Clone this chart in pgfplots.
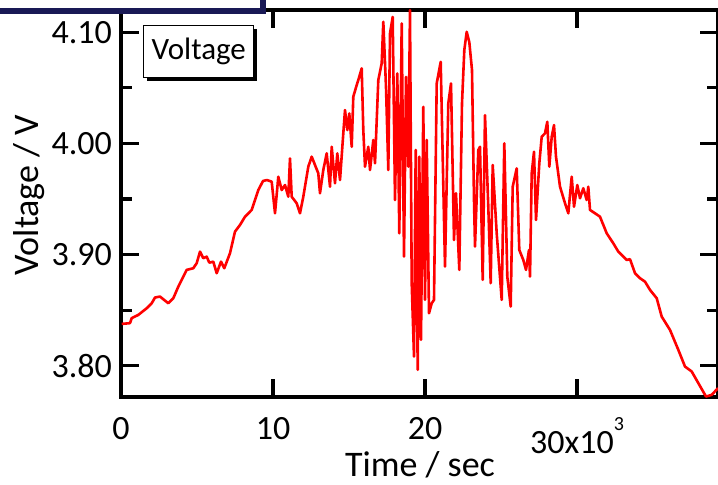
\documentclass[border=0pt]{standalone}
\usepackage{fontspec}
\setmainfont{Carlito}
\usepackage{pgfplots}
\usepackage{pgfplotstable}
\pgfplotsset{compat=1.18}
\usetikzlibrary{shadows}

\definecolor{framenavy}{RGB}{25,25,85}

% time (s), voltage (V)
\pgfplotstableread{
t V
46 3.8377
592 3.8384
704 3.8429
1138 3.8458
1691 3.8518
2020 3.8563
2237 3.8614
2566 3.8623
2783 3.8599
3112 3.8563
3441 3.8608
3770 3.8712
4099 3.8802
4322 3.8863
4757 3.8878
4980 3.8923
5197 3.9027
5414 3.8968
5638 3.8982
5809 3.8928
6072 3.8937
6296 3.8833
6579 3.8937
6796 3.8878
7171 3.9013
7500 3.9207
7829 3.9267
8158 3.9341
8599 3.9402
9033 3.9581
9342 3.9662
9605 3.9671
9914 3.9656
10132 3.9372
10349 3.9701
10572 3.9581
10789 3.9626
11007 3.9521
11118 3.9866
11230 3.9521
11559 3.9462
11776 3.9372
11993 3.9521
12322 3.9791
12546 3.9881
12763 3.9806
12980 3.9731
13092 3.9552
13309 3.9761
13533 3.9911
13750 3.9611
13862 3.9970
14079 3.9642
14230 3.9911
14408 3.9671
14625 4.0091
14737 4.0300
14889 4.0120
15020 4.0270
15178 3.9970
15283 4.0420
15507 4.0525
15612 4.0570
15836 4.0675
15941 4.0120
16053 3.9791
16270 3.9970
16382 3.9761
16599 4.0031
16711 3.9821
16928 4.0570
17151 4.0720
17257 4.1094
17434 4.0509
17586 3.9761
17697 4.0989
17875 4.1138
18026 3.9491
18178 4.0630
18309 3.9192
18467 4.1079
18618 3.8982
18750 4.0599
18901 3.9791
19013 4.1199
19125 3.8743
19276 3.8084
19388 3.9941
19520 3.7964
19625 3.9881
19737 3.8234
19888 4.0329
20000 3.8593
20112 4.0031
20263 3.8473
20441 3.8563
20592 3.8593
20770 4.0540
21033 4.0734
21316 3.8892
21533 4.0360
21711 4.0540
21908 3.9132
22039 3.9552
22257 3.8863
22434 4.0360
22586 4.0839
22743 4.1004
22915 4.0911
23092 4.0660
23224 3.9491
23290 3.9072
23507 3.9941
23619 3.9970
23796 3.8773
23947 4.0255
24164 3.9431
24322 3.8743
24454 3.9806
24717 3.9192
25046 3.8593
25217 4.0001
25415 3.8802
25638 3.8533
25770 3.9611
26033 3.9776
26204 3.9042
26467 3.8952
26645 3.8863
26842 3.9042
26908 3.8802
27020 3.9731
27171 3.9925
27303 3.9312
27520 3.9821
27678 4.0060
27895 4.0091
28046 4.0195
28178 3.9791
28336 4.0060
28487 4.0165
28618 3.9881
28882 3.9611
29211 3.9462
29428 3.9372
29651 3.9701
29803 3.9431
30020 3.9626
30197 3.9507
30414 3.9597
30638 3.9491
30743 3.9611
30855 3.9402
31184 3.9372
31513 3.9341
31954 3.9192
32388 3.9102
32717 3.9027
32829 3.9013
33270 3.8952
33487 3.8959
33816 3.8833
34145 3.8788
34474 3.8757
34803 3.8683
35244 3.8608
35572 3.8443
36118 3.8323
36665 3.8144
37105 3.7994
37546 3.7949
37980 3.7845
38487 3.7724
38862 3.7739
39276 3.7800
}\voltdata

\begin{document}
\begin{tikzpicture}
\begin{axis}[
  at={(0,0)}, anchor=south west,
  scale only axis, width=298.5pt, height=193.5pt,
  xmin=0, xmax=39276, ymin=3.772, ymax=4.12,
  clip=false,
  axis line style={line width=1.6pt},
  tick align=inside,
  major tick length=9pt, minor tick length=5.5pt,
  tick style={black, line width=1.6pt},
  xtick={0,10000,20000,30000},
  xticklabels={0,10,20,{30x10\raisebox{11.5pt}{\fontsize{10}{10}\selectfont 3}}},
  scaled x ticks=false,
  ytick={3.8,3.9,4.0,4.1},
  minor ytick={3.85,3.95,4.05},
  yticklabel style={/pgf/number format/fixed, /pgf/number format/fixed zerofill,
    /pgf/number format/precision=2, /pgf/number format/assume math mode=true, xshift=-1pt},
  ticklabel style={font=\fontsize{17}{20}\selectfont},
  xticklabel style={yshift=-6.8pt},
  label style={font=\fontsize{18}{21}\selectfont},
  xlabel={Time / sec},
  xlabel style={at={(axis description cs:0.5008,-0.2065)}, anchor=base},
  ylabel={Voltage / V},
  ylabel style={at={(axis description cs:-0.1374,0.522)}, anchor=base},
]
\addplot[red, line width=1.3pt, line join=round, mark=none] table[x=t, y=V] {\voltdata};

\node[draw=black, line width=0.7pt, fill=white,
      drop shadow={shadow xshift=1.5pt, shadow yshift=-1.5pt, fill=black, opacity=1},
      minimum width=55pt, minimum height=26pt, inner sep=0pt, anchor=north west,
      font=\fontsize{15.5}{18}\selectfont]
  at (rel axis cs:0.0369,0.9612) {Voltage};

\draw[framenavy, line width=2.8pt, line join=miter]
  (rel axis cs:-0.25,0.9974) -- (rel axis cs:0.2379,0.9974) -- (rel axis cs:0.2379,1.06);
\end{axis}
\pgfresetboundingbox
\path[use as bounding box] (-60.5pt,-44pt) rectangle (298.5pt,198.5pt);
\end{tikzpicture}
\end{document}
